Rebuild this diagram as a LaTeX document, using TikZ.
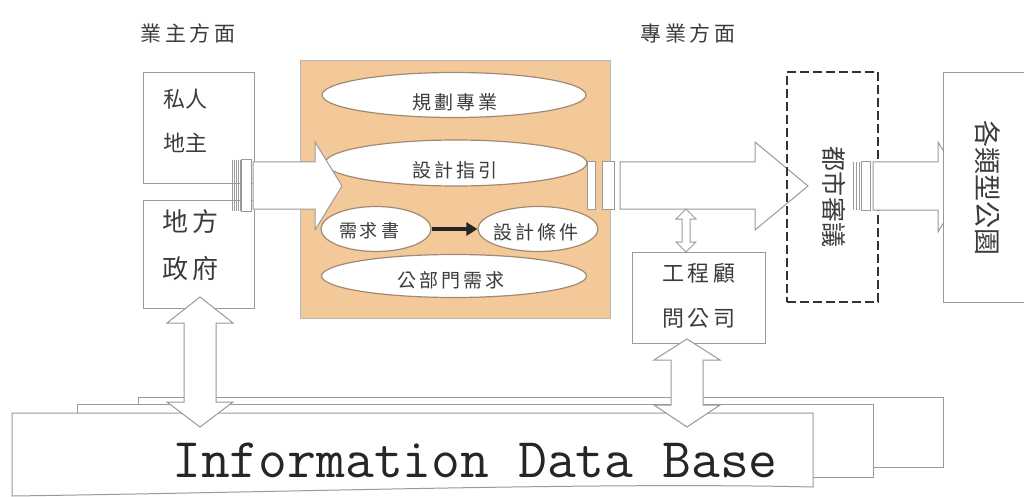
\documentclass[tikz,border=0pt]{standalone}
\usepackage{fontspec}
\newfontfamily\cjk{Noto Sans CJK TC}
\usetikzlibrary{shapes.geometric,arrows.meta}
\definecolor{lgray}{HTML}{9A9A9A}
\definecolor{peach}{HTML}{F4C999}
\definecolor{elln}{HTML}{A08A72}
\definecolor{txt}{HTML}{3C3C3C}
\tikzset{
  box/.style={draw=lgray, line width=1pt, fill=white, rectangle, inner sep=0pt},
  ell/.style={draw=elln, line width=1.2pt, fill=white, ellipse, inner sep=0pt},
  blockarrow/.style={draw=lgray, line width=1pt, fill=white, line join=miter},
  lbl/.style={text=txt, inner sep=0pt, font=\cjk\fontsize{#1}{#1}\selectfont},
  lbl/.default=20,
}
\begin{document}
\begin{tikzpicture}[x=1pt,y=-1pt]
\path[use as bounding box, fill=white] (0,0) rectangle (1024,497);

% headings
\node[lbl=21] (hOwner) at (188,33) {業\,主\,方\,面};
\node[lbl=21] (hPro) at (688,33) {專\,業\,方\,面};

% owner boxes
\node[box, minimum width=111, minimum height=110] (priv) at (198.5,128) {};
\node[lbl=22, anchor=west] (privA) at (163,99) {私人};
\node[lbl=22, anchor=west] (privB) at (163,143) {地主};
\node[box, minimum width=111, minimum height=108] (gov) at (198.5,254) {};
\node[lbl=26, anchor=west] (govA) at (162,222) {地\,方};
\node[lbl=26, anchor=west] (govB) at (162,269) {政\,府};

% orange block
\node[draw=lgray!70, fill=peach, line width=0.8pt, minimum width=310, minimum height=258, inner sep=0pt] (core) at (455,189) {};
\node[ell, minimum width=264, minimum height=45] (e1) at (454,95) {};
\node[lbl=19] (t1) at (455,102) {規\,劃\,專\,業};
\node[ell, minimum width=262, minimum height=46] (e2) at (456,163) {};
\node[lbl=19] (t2) at (455,170) {設\,計\,指\,引};
\node[ell, minimum width=110, minimum height=45] (e3) at (376,229) {};
\node[lbl=18] (t3) at (369,231) {需\,求\,書};
\node[ell, minimum width=120, minimum height=45] (e4) at (538,229) {};
\node[lbl=19] (t4) at (536,232) {設\,計\,條\,件};
\node[ell, minimum width=265, minimum height=43] (e5) at (454,276) {};
\node[lbl=19] (t5) at (451,280) {公\,部\,門\,需\,求};
\draw[line width=3.6pt, black!85, -{Triangle[length=11pt,width=13pt]}] (e3.east) -- (e4.west);

% arrow 1 (owners -> core)
\draw[blockarrow] (253,162) -- (315,162) -- (315,142) -- (342,186) -- (315,230) -- (315,209) -- (253,209) -- cycle;
\foreach \xx in {232,234,236,238,240} \draw[lgray, line width=0.7pt] (\xx,160) -- (\xx,211);
\draw[blockarrow] (241,160) rectangle (251,211);

% arrow 2 (core -> review)
\draw[blockarrow] (587,162) rectangle (595,209);
\draw[blockarrow] (602,162) rectangle (614,209);
\draw[blockarrow] (620,162) -- (755,162) -- (755,142) -- (808,186) -- (755,230) -- (755,209) -- (620,209) -- cycle;

% review box (dashed)
\node[draw=black!80, line width=1.5pt, dash pattern=on 9pt off 4pt, minimum width=91, minimum height=230, inner sep=0pt] (review) at (832.5,187) {};
\node[lbl=25, rotate=-90] (reviewT) at (834,197) {都市審議};

% arrow 3 (review -> parks)
\draw[blockarrow] (873,162) -- (938,162) -- (938,142) -- (965,186) -- (938,232) -- (938,210) -- (873,210) -- cycle;
\foreach \xx in {853,856,859} \draw[lgray, line width=0.7pt] (\xx,162) -- (\xx,210);
\draw[blockarrow] (861,162) rectangle (870,210);

% parks box
\node[box, minimum width=100, minimum height=229] (parks) at (993,187.5) {};
\node[lbl=27, rotate=-90] (parksT) at (988,188) {各類型公園};

% consultant
\node[box, minimum width=133, minimum height=91] (cons) at (698.5,297.5) {};
\node[lbl=22] (consA) at (699,273) {工\,程\,顧};
\node[lbl=22] (consB) at (699,318) {問\,公\,司};
\draw[blockarrow] (686,209) -- (696,219) -- (690,219) -- (690,242) -- (696,242) -- (686,252) -- (676,242) -- (682,242) -- (682,219) -- (676,219) -- cycle;

% database stack
\draw[box] (138,397) rectangle (943,467);
\draw[box] (77,404) rectangle (873,477);
\draw[box] (12,413) -- (813,413) -- (813,487) .. controls (600,482) and (300,492) .. (12,496) -- cycle;
\node[inner sep=0pt, anchor=base, text=black!85, font=\ttfamily\fontsize{56}{56}\selectfont] (db) at (475,477) {Information Data Base};

% vertical double arrows
\draw[blockarrow] (200,297) -- (233,323) -- (216,323) -- (216,402) -- (233,402) -- (200,427) -- (167,402) -- (184,402) -- (184,323) -- (167,323) -- cycle;
\draw[blockarrow] (687,339) -- (720,360) -- (703,360) -- (703,405) -- (720,405) -- (687,427) -- (654,405) -- (671,405) -- (671,360) -- (654,360) -- cycle;
\end{tikzpicture}
\end{document}
